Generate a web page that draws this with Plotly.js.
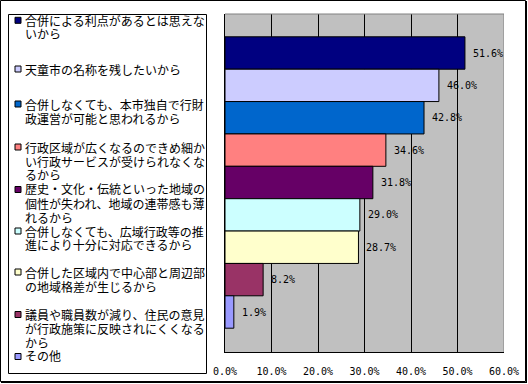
<!DOCTYPE html>
<html>
<head>
<meta charset="utf-8">
<script src="https://cdn.plot.ly/plotly-3.0.1.min.js"></script>
<style>html,body{margin:0;padding:0;background:#fff;}#chart{width:528px;height:384px;}</style>
</head>
<body>
<div id="chart"></div>
<script>
// ---- data ----
const categories = [
  "合併による利点があるとは思えな<br>いから",
  "天童市の名称を残したいから",
  "合併しなくても、本市独自で行財<br>政運営が可能と思われるから",
  "行政区域が広くなるのできめ細か<br>い行政サービスが受けられなくな<br>るから",
  "歴史・文化・伝統といった地域の<br>個性が失われ、地域の連帯感も薄<br>れるから",
  "合併しなくても、広域行政等の推<br>進により十分に対応できるから",
  "合併した区域内で中心部と周辺部<br>の地域格差が生じるから",
  "議員や職員数が減り、住民の意見<br>が行政施策に反映されにくくなる<br>から",
  "その他"
];
const values = [51.6, 46.0, 42.8, 34.6, 31.8, 29.0, 28.7, 8.2, 1.9];
const xTickValues = [0, 10, 20, 30, 40, 50, 60];
const xTickLabels = ["0.0%", "10.0%", "20.0%", "30.0%", "40.0%", "50.0%", "60.0%"];

// ---- styles ----
const colors = ["#000080", "#CCCCFF", "#0066CC", "#FF8080", "#660066", "#CCFFFF", "#FFFFCC", "#993366", "#9999FF"];
const legendFirstLineCenters = [20.3, 69, 104, 147, 189.5, 231, 272, 314.5, 356.5];
const legendLineStep = 14;

const W = 528, H = 384;
const L = 225, R = 504, T = 14, B = 352;
const px = x => (x - L) / (R - L);
const py = y => (B - y) / (B - T);

const trace = {
  type: "bar",
  orientation: "h",
  x: values,
  y: categories,
  marker: { color: colors, line: { color: "#000", width: 1 } },
  hoverinfo: "none",
  showlegend: false
};

const annotations = [];
const shapes = [];

// value labels
values.forEach((v, i) => {
  annotations.push({
    x: v, y: categories[i], xref: "x", yref: "y",
    text: v.toFixed(1) + "%", showarrow: false,
    xanchor: "left", yanchor: "middle", xshift: 6,
    font: { family: "DejaVu Sans Mono, monospace", size: 10, color: "#000" }
  });
});

// legend
categories.forEach((c, i) => {
  const lines = c.split("<br>");
  const y0 = legendFirstLineCenters[i];
  lines.forEach((ln, j) => {
    annotations.push({
      x: px(24), y: py(y0 + j * legendLineStep), xref: "paper", yref: "paper",
      text: ln, showarrow: false, xanchor: "left", yanchor: "middle",
      borderpad: 0, yshift: -1,
      font: { family: "Liberation Sans, Noto Sans CJK JP", size: 12, color: "#000" }
    });
  });
  shapes.push({
    type: "rect", xref: "paper", yref: "paper",
    x0: px(15), x1: px(21), y0: py(y0 - 3), y1: py(y0 + 3),
    fillcolor: colors[i], line: { color: "#000", width: 1 }
  });
});

// legend box
shapes.push({ type: "rect", xref: "paper", yref: "paper",
  x0: px(8.5), x1: px(206.5), y0: py(14.5), y1: py(373.5),
  line: { color: "#000", width: 1 }, fillcolor: "rgba(0,0,0,0)" });

// outer frame
shapes.push({ type: "rect", xref: "paper", yref: "paper",
  x0: px(0.5), x1: px(525.5), y0: py(0.5), y1: py(381.5),
  line: { color: "#000", width: 1 }, fillcolor: "rgba(0,0,0,0)" });
shapes.push({ type: "line", xref: "paper", yref: "paper",
  x0: px(526.5), x1: px(526.5), y0: py(1), y1: py(383),
  line: { color: "#000", width: 1 } });
shapes.push({ type: "line", xref: "paper", yref: "paper",
  x0: px(1), x1: px(527), y0: py(382.5), y1: py(382.5),
  line: { color: "#000", width: 1 } });

// plot area top / right border (gray)
shapes.push({ type: "line", xref: "x", yref: "paper",
  x0: 60, x1: 60, y0: 0, y1: 1, line: { color: "#808080", width: 1 }, layer: "above" });
shapes.push({ type: "line", xref: "x", yref: "paper",
  x0: 0, x1: 60, y0: 1, y1: 1, line: { color: "#808080", width: 1 }, layer: "above" });

const layout = {
  width: W, height: H,
  margin: { l: L, r: W - R, t: T, b: H - B, pad: 0 },
  paper_bgcolor: "#fff",
  plot_bgcolor: "#C0C0C0",
  bargap: 0,
  showlegend: false,
  xaxis: {
    range: [0, 60], fixedrange: true,
    tickvals: xTickValues, ticktext: xTickLabels,
    showgrid: true, gridcolor: "#000", gridwidth: 1,
    zeroline: false, showline: true, linecolor: "#000", linewidth: 1,
    ticks: "", ticklabelstandoff: 10,
    tickfont: { family: "DejaVu Sans Mono, monospace", size: 10, color: "#000" }
  },
  yaxis: {
    type: "category",
    range: [9.2355, -1.2046], fixedrange: true,
    showticklabels: false, showgrid: false, zeroline: false,
    showline: true, linecolor: "#000", linewidth: 1, ticks: ""
  },
  annotations: annotations,
  shapes: shapes
};

Plotly.newPlot("chart", [trace], layout, { displayModeBar: false, staticPlot: true });
</script>
</body>
</html>
